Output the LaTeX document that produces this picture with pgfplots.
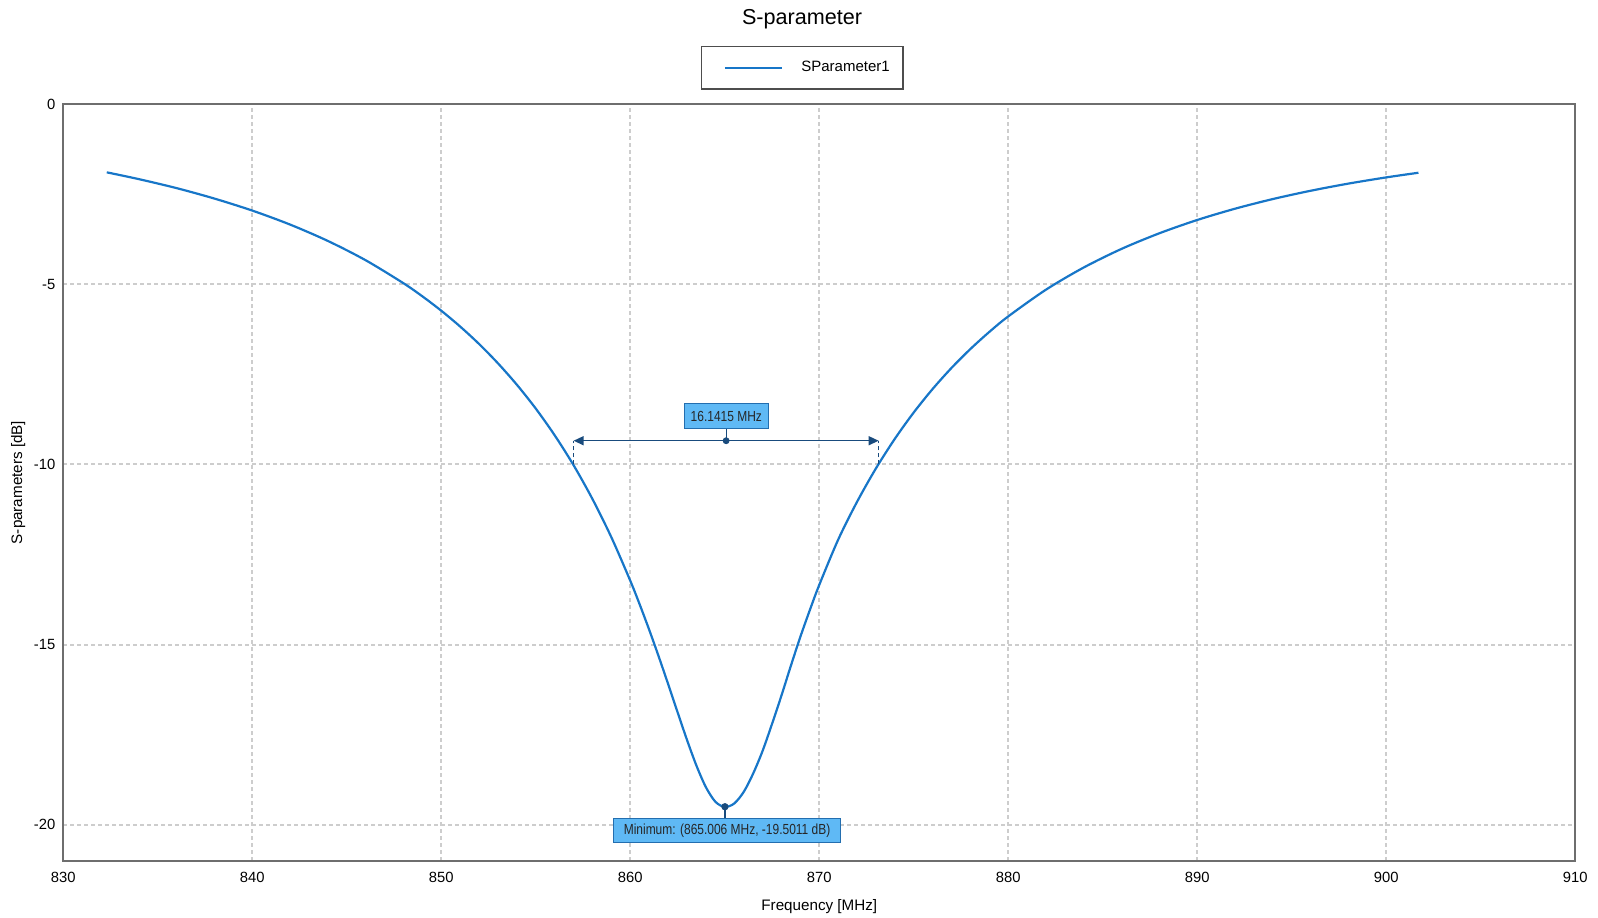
\documentclass[border=0pt]{standalone}
\usepackage{pgfplots}
\pgfplotsset{compat=1.18}
\usepackage{pgfplotstable}
\usepackage{fontspec}
\setmainfont{Liberation Sans}
\newfontfamily\annotfont[FakeStretch=0.82]{Liberation Sans}
\usetikzlibrary{arrows.meta}
\definecolor{curve}{RGB}{23,118,200}
\definecolor{gridc}{RGB}{205,205,205}
\definecolor{axc}{RGB}{110,110,110}
\definecolor{boxfill}{RGB}{95,185,245}
\definecolor{boxdraw}{RGB}{35,110,175}
\definecolor{annot}{RGB}{25,75,125}

\pgfplotstableread{
f s
832.3 -1.889
834 -2.078
836 -2.328
838 -2.618
840 -2.951
842 -3.339
844 -3.794
846 -4.330
848 -4.968
849 -5.332
850 -5.731
851 -6.171
852 -6.655
853 -7.192
854 -7.787
855 -8.449
856 -9.190
857 -10.021
858 -10.961
859 -12.023
860 -13.229
860.5 -13.890
861 -14.590
861.5 -15.327
862 -16.094
862.5 -16.876
863 -17.647
863.5 -18.361
864 -18.959
864.5 -19.362
865 -19.508
865.5 -19.410
866 -19.090
866.5 -18.580
867 -17.950
867.5 -17.200
868 -16.410
868.5 -15.580
869 -14.780
869.5 -14.040
870 -13.340
871 -12.085
872 -11.033
873 -10.105
874 -9.284
875 -8.553
876 -7.901
877 -7.316
878 -6.791
879 -6.317
880 -5.887
882 -5.144
884 -4.528
886 -4.012
888 -3.579
890 -3.211
892 -2.898
894 -2.630
896 -2.400
898 -2.201
900 -2.029
901.7 -1.900
}\sparam

\begin{document}
\begin{tikzpicture}
\begin{axis}[
  scale only axis, width=756pt, height=378.2pt,
  xmin=830, xmax=910, ymin=-21, ymax=0,
  xtick={830,840,...,910}, ytick={-20,-15,-10,-5,0},
  major tick length=0pt,
  grid=major,
  major grid style={gridc, line width=1pt, dash pattern=on 2pt off 1.5pt},
  axis line style={axc, line width=1pt},
  tick label style={font=\fontsize{7.4}{9}\selectfont, black},
  /pgf/number format/assume math mode=true,
  xticklabel style={yshift=-2.1pt},
  yticklabel style={xshift=-0.5pt},
  xlabel={Frequency [MHz]}, ylabel={S-parameters [dB]},
  label style={font=\fontsize{7.6}{9}\selectfont},
  xlabel style={at={(axis description cs:0.5,-0.060)}, anchor=center},
  ylabel style={at={(axis description cs:-0.0298,0.5)}, anchor=center},
  title={S-parameter},
  title style={at={(axis description cs:0.4886,1.096)}, anchor=center, yshift=0pt, font=\fontsize{10.8}{12}\selectfont},
  legend style={at={(axis description cs:0.4886,1.0483)}, anchor=center, draw=axc!70!black, line width=0.8pt, inner xsep=6.5pt, inner ysep=7.2pt, nodes={inner sep=0pt, text height=5.5pt, text depth=1.5pt}, font=\fontsize{7.5}{9}\selectfont},
  legend image code/.code={\path (-4.7pt,0pt); \draw[#1] (0pt,0pt) -- (28.5pt,0pt); \path (37.7pt,0pt);},
  clip=false,
]
\addplot[curve, line width=1.1pt, smooth] table[x=f, y=s]{\sparam};
\addlegendentry{SParameter1}

% bandwidth annotation
\draw[annot, line width=0.6pt, dash pattern=on 2pt off 1.5pt] (axis cs:857.0,-10) -- (axis cs:857.0,-9.34);
\draw[annot, line width=0.6pt, dash pattern=on 2pt off 1.5pt] (axis cs:873.14,-10) -- (axis cs:873.14,-9.34);
\draw[annot, line width=0.7pt, {Triangle[length=5pt,width=4.5pt]}-{Triangle[length=5pt,width=4.5pt]}] (axis cs:857.0,-9.34) -- (axis cs:873.14,-9.34);
\draw[annot, line width=0.6pt] (axis cs:865.07,-9.34) -- (axis cs:865.07,-9.0);
\addplot[annot, only marks, mark=*, mark size=1.5pt, forget plot] coordinates {(865.07,-9.34)};
\node[draw=boxdraw, fill=boxfill, line width=0.5pt, minimum width=42pt, minimum height=12.5pt, inner sep=0pt, font=\annotfont\fontsize{7.3}{8}\selectfont, text=black!85] at (axis cs:865.08,-8.665) {16.1415 MHz};

% minimum annotation
\draw[annot, line width=0.6pt] (axis cs:865.006,-19.5011) -- (axis cs:865.006,-19.9);
\node[draw=boxdraw, fill=boxfill, line width=0.5pt, minimum width=113.2pt, minimum height=11.8pt, inner sep=0pt, font=\annotfont\fontsize{7.3}{8}\selectfont, text=black!85] at (axis cs:865.12,-20.16) {Minimum: (865.006 MHz, -19.5011 dB)};
\addplot[annot, only marks, mark=*, mark size=1.6pt, forget plot] coordinates {(865.006,-19.5011)};
\end{axis}
\pgfresetboundingbox
\path[use as bounding box] (-31.65pt,-28.15pt) rectangle (767.35pt,430.35pt);
\end{tikzpicture}
\end{document}
